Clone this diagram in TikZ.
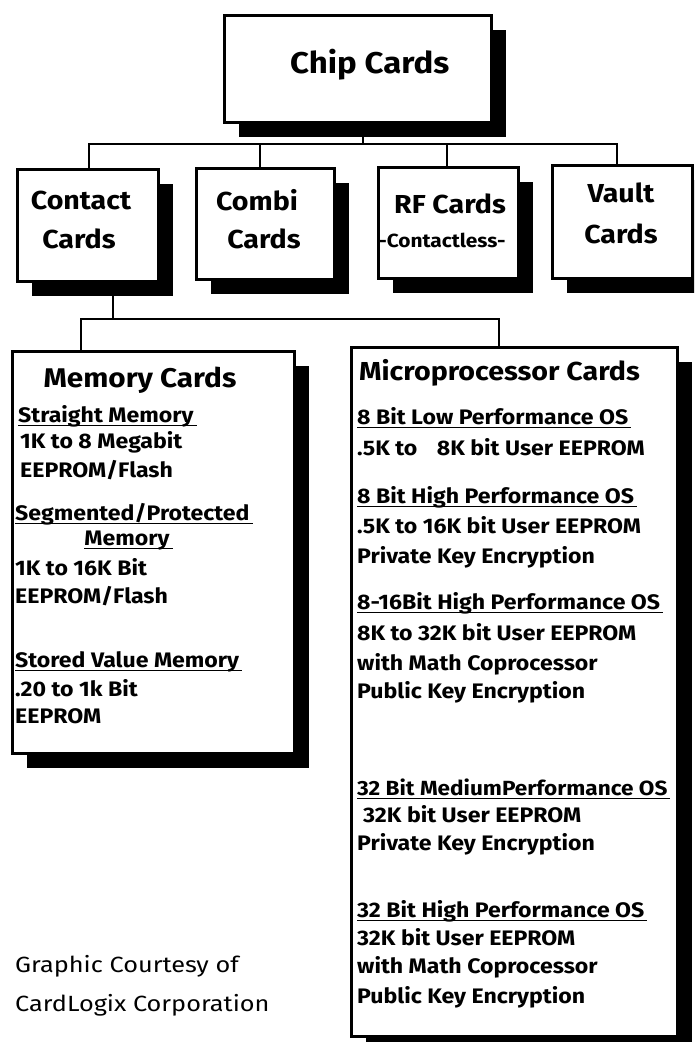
\documentclass[tikz,border=0pt]{standalone}
\usepackage{fontspec}
\usetikzlibrary{shadows}
\newfontfamily\cardfont[FakeStretch=1.1]{Fira Sans}
\newfontfamily\courtfont[FakeStretch=1.15]{Fira Sans}
\newcommand{\myul}[1]{\sbox0{#1\hspace{3pt}}\rlap{\rule[-4pt]{\wd0}{1.3pt}}#1}
\tikzset{
  box/.style={draw=black, line width=3pt, fill=white, inner sep=0pt, anchor=north west,
    drop shadow={shadow xshift=14pt, shadow yshift=-14pt, opacity=1, fill=black}},
  conn/.style={draw=black, line width=2pt},
  ttl/.style={inner sep=0pt, anchor=base, font=\cardfont\bfseries\fontsize{26}{28}\selectfont},
  body/.style={inner sep=0pt, anchor=base west, font=\cardfont\bfseries\fontsize{21}{24}\selectfont},
  court/.style={inner sep=0pt, anchor=base west, font=\courtfont\fontsize{22}{24}\selectfont}
}
\begin{document}
\begin{tikzpicture}[x=1pt,y=-1pt]
\useasboundingbox (0,0) rectangle (694,1042);
\clip (0,0) rectangle (694,1042);

% boxes
\node[box, minimum width=267pt, minimum height=107pt] (chip) at (223,14) {};
\node[box, minimum width=141pt, minimum height=112pt] (contact) at (16,168) {};
\node[box, minimum width=138pt, minimum height=111pt] (combi) at (195,167) {};
\node[box, minimum width=140pt, minimum height=111pt] (rf) at (377,166) {};
\node[box, minimum width=140pt, minimum height=113pt] (vault) at (551,164) {};
\node[box, minimum width=282pt, minimum height=402pt] (mem) at (11,350) {};
\node[box, minimum width=326pt, minimum height=689pt] (micro) at (350,346) {};

% connectors, level 1
\coordinate (j1) at (363,144);
\draw[conn] (chip.south -| j1) -- (j1);
\draw[conn] (j1) -| ([xshift=0.5pt]contact.north);
\draw[conn] (j1) -| ([xshift=-6pt]combi.north);
\draw[conn] (j1) -| ([xshift=-2pt]rf.north);
\draw[conn] (j1) -| ([xshift=-6pt]vault.north);

% connectors, level 2
\coordinate (j2) at (113,319);
\draw[conn] (contact.south -| j2) -- (j2);
\draw[conn] (j2) -| ([xshift=-73pt]mem.north);
\draw[conn] (j2) -| ([xshift=-16pt]micro.north);

% level-1 labels
\node[ttl, font=\cardfont\bfseries\fontsize{30}{33}\selectfont, anchor=base west] (tchip) at (290,73) {Chip Cards};
\node[ttl] (tcon1) at (81,209) {Contact};
\node[ttl] (tcon2) at (79,248) {Cards};
\node[ttl] (tcom1) at (257,210) {Combi};
\node[ttl] (tcom2) at (264,248) {Cards};
\node[ttl] (trf1) at (450,213) {RF Cards};
\node[ttl, font=\cardfont\bfseries\fontsize{19}{21}\selectfont] (trf2) at (442,247) {-Contactless-};
\node[ttl] (tva1) at (621,202) {Vault};
\node[ttl] (tva2) at (621,243) {Cards};

% memory cards
\node[ttl, font=\cardfont\bfseries\fontsize{27}{30}\selectfont] (mh) at (140,387) {Memory Cards};
\node[body] (m1) at (18,422) {\myul{Straight Memory}};
\node[body] (m2) at (20,448) {1K to 8 Megabit};
\node[body] (m3) at (20,477) {EEPROM/Flash};
\node[body] (m4) at (15,520) {\myul{Segmented/Protected}};
\node[body, anchor=base] (m5) at (127,545) {\myul{Memory}};
\node[body] (m6) at (15,575) {1K to 16K Bit};
\node[body] (m7) at (15,603) {EEPROM/Flash};
\node[body] (m8) at (15,667) {\myul{Stored Value Memory}};
\node[body] (m9) at (15,696) {.20 to 1k Bit};
\node[body] (m10) at (15,723) {EEPROM};

% microprocessor cards
\node[body, font=\cardfont\bfseries\fontsize{26}{28}\selectfont] (ph) at (359,380) {Microprocessor Cards};
\node[body] (p1) at (357,424) {\myul{8 Bit Low Performance OS}};
\node[body] (p2) at (357,455) {.5K to \hspace{14pt}8K bit User EEPROM};
\node[body] (p3) at (357,503) {\myul{8 Bit High Performance OS}};
\node[body] (p4) at (357,533) {.5K to 16K bit User EEPROM};
\node[body] (p5) at (357,563) {Private Key Encryption};
\node[body] (p6) at (357,609) {\myul{8-16Bit High Performance OS}};
\node[body] (p7) at (357,640) {8K to 32K bit User EEPROM};
\node[body] (p8) at (357,670) {with Math Coprocessor};
\node[body] (p9) at (357,698) {Public Key Encryption};
\node[body, font=\cardfont\bfseries\fontsize{20.5}{24}\selectfont] (p10) at (357,795) {\myul{32 Bit MediumPerformance OS}};
\node[body] (p11) at (363,822) {32K bit User EEPROM};
\node[body] (p12) at (357,850) {Private Key Encryption};
\node[body] (p13) at (357,917) {\myul{32 Bit High Performance OS}};
\node[body] (p14) at (357,945) {32K bit User EEPROM};
\node[body] (p15) at (357,973) {with Math Coprocessor};
\node[body] (p16) at (357,1003) {Public Key Encryption};

% courtesy
\node[court] (c1) at (15,972) {Graphic Courtesy of};
\node[court] (c2) at (15,1011) {CardLogix Corporation};
\end{tikzpicture}
\end{document}
